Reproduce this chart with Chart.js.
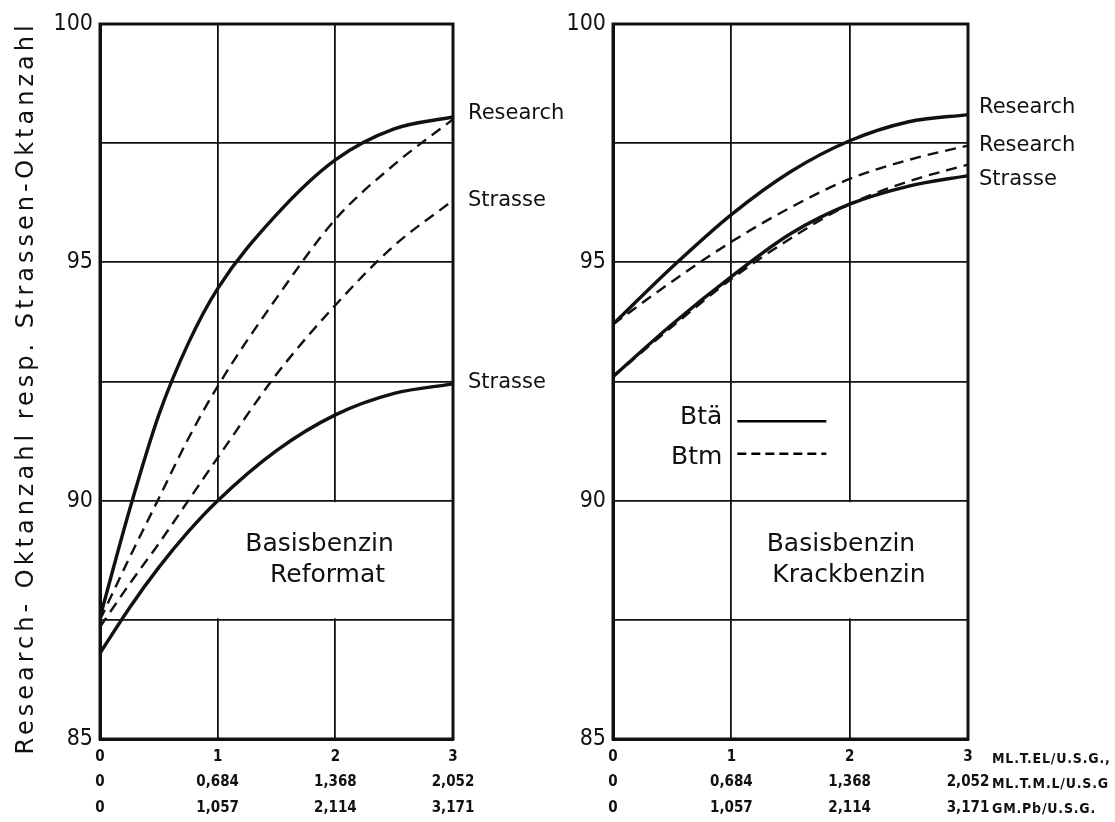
<!DOCTYPE html>
<html>
<head>
<meta charset="utf-8">
<script src="https://cdn.jsdelivr.net/npm/chart.js@4.4.0/dist/chart.umd.min.js"></script>
<style>
  html, body { margin: 0; padding: 0; background: #fff; }
  #wrap { position: relative; width: 1115px; height: 822px; }
  #wrap canvas { position: absolute; left: 0; top: 0; }
</style>
</head>
<body>
<div id="wrap">
  <canvas id="left" width="1115" height="822"></canvas>
  <canvas id="right" width="1115" height="822"></canvas>
</div>
<script>
// x axis: ml TEL per US gallon, with the TML and Pb equivalents underneath
var telTicks = [0, 1, 2, 3];
var tmlTicks = ["0", "0,684", "1,368", "2,052"];
var pbTicks = ["0", "1,057", "2,114", "3,171"];
var unitLabels = ["ML.T.EL/U.S.G.,", "ML.T.M.L/U.S.G", "GM.Pb/U.S.G."];
var yTitle = "Research- Oktanzahl resp. Strassen-Oktanzahl";

// Basisbenzin Reformat
var refX = [0, 0.25, 0.5, 0.75, 1, 1.5, 2, 2.5, 3];
var refResearchBta = [87.55, 89.8, 91.8, 93.3, 94.45, 96.0, 97.15, 97.8, 98.05];
var refResearchBtm = [87.5, 88.8, 90.05, 91.3, 92.4, 94.25, 95.9, 97.05, 98.0];
var refStrasseBtm = [87.35, 88.25, 89.1, 90.0, 90.9, 92.65, 94.1, 95.35, 96.3];
var refStrasseBta = [86.8, 87.75, 88.6, 89.35, 90.0, 91.05, 91.8, 92.25, 92.45];

// Basisbenzin Krackbenzin
var krackX = [0, 0.5, 1, 1.5, 2, 2.5, 3];
var krackResearchBta = [93.7, 94.9, 96.0, 96.9, 97.55, 97.95, 98.1];
var krackResearchBtm = [93.7, 94.6, 95.43, 96.15, 96.75, 97.15, 97.45];
var krackStrasseBta = [92.6, 93.7, 94.7, 95.6, 96.22, 96.6, 96.82];
var krackStrasseBtm = [92.6, 93.65, 94.65, 95.5, 96.22, 96.7, 97.05];

var ink = "#111";
var face = "'DejaVu Sans Condensed', 'Liberation Sans Narrow', sans-serif";
var wide = "'DejaVu Sans', sans-serif";

function pts(xs, ys) {
  return xs.map(function(x, i) { return {x: x, y: ys[i]}; });
}

function curve(xs, ys, dashed) {
  return {
    data: pts(xs, ys),
    borderColor: ink,
    borderWidth: dashed ? 2.4 : 3.4,
    borderDash: dashed ? [11, 7] : [],
    cubicInterpolationMode: "monotone",
    pointRadius: 0,
    fill: false
  };
}

var panelDecor = {
  id: "panelDecor",
  beforeDatasetsDraw: function(chart, args, o) {
    var ctx = chart.ctx, xs = chart.scales.x, ys = chart.scales.y, a = chart.chartArea;
    ctx.save();
    // open field behind the caption (grid interrupted there)
    var gx0 = xs.getPixelForValue(o.gapFrom) + o.gapShift;
    var gx1 = xs.getPixelForValue(3) - 2;
    var gy0 = ys.getPixelForValue(90) + 1.5;
    var gy1 = ys.getPixelForValue(87.5) - 1.5;
    ctx.fillStyle = "#fff";
    ctx.fillRect(gx0, gy0, gx1 - gx0, gy1 - gy0);
    ctx.strokeStyle = ink;
    ctx.lineWidth = 3;
    ctx.strokeRect(a.left, a.top, a.right - a.left, a.bottom - a.top);
    ctx.restore();
  },
  afterDraw: function(chart, args, o) {
    var ctx = chart.ctx, xs = chart.scales.x, ys = chart.scales.y, a = chart.chartArea;
    ctx.save();
    ctx.fillStyle = ink;
    ctx.textBaseline = "middle";

    // rotated axis title, spaced out like the lettering of the original
    if (o.title) {
      ctx.save();
      ctx.translate(27, 388);
      ctx.rotate(-Math.PI / 2);
      ctx.font = "24px " + wide;
      ctx.letterSpacing = "4px";
      ctx.textAlign = "center";
      ctx.fillText(o.title, 0, 0);
      ctx.restore();
    }

    // curve names at the right end
    ctx.font = "21px " + wide;
    ctx.textAlign = "left";
    o.ends.forEach(function(e) {
      var last = e.data[e.data.length - 1];
      ctx.fillText(e.text, xs.getPixelForValue(3) + o.endGap, ys.getPixelForValue(last) + e.dy);
    });

    // caption
    ctx.font = "25px " + wide;
    ctx.textAlign = "center";
    var cx = xs.getPixelForValue(o.caption.x);
    ctx.fillText(o.caption.lines[0], cx - 4, ys.getPixelForValue(89.07));
    ctx.fillText(o.caption.lines[1], cx + 4, ys.getPixelForValue(88.44));

    // line-style key
    if (o.key) {
      var kx = xs.getPixelForValue(1);
      ctx.font = "25px " + wide;
      ctx.textAlign = "right";
      o.key.forEach(function(k) {
        var ky = ys.getPixelForValue(k.y);
        ctx.fillText(k.text, kx - 9, ky);
        ctx.beginPath();
        ctx.lineWidth = 2.6;
        ctx.setLineDash(k.dashed ? [9, 5] : []);
        ctx.moveTo(kx + 6, ky + k.dl);
        ctx.lineTo(kx + 95, ky + k.dl);
        ctx.stroke();
      });
      ctx.setLineDash([]);
    }

    // units beside the x tick rows
    if (o.units) {
      ctx.font = "bold 14px " + face;
      ctx.letterSpacing = "0.8px";
      ctx.textAlign = "left";
      var ux = xs.getPixelForValue(3) + 24;
      var uy = a.bottom + 20;
      o.units.forEach(function(u, i) {
        ctx.fillText(u, ux, uy + i * 25);
      });
    }
    ctx.restore();
  }
};

function makePanel(id, area, datasets, decor) {
  var ctx = document.getElementById(id);
  return new Chart(ctx, {
    type: "line",
    data: { datasets: datasets },
    plugins: [panelDecor],
    options: {
      responsive: false,
      animation: false,
      layout: { padding: { left: area.padLeft, right: 1115 - area.right, top: 24, bottom: 0 } },
      plugins: {
        legend: { display: false },
        tooltip: { enabled: false },
        panelDecor: decor
      },
      scales: {
        x: {
          type: "linear",
          min: 0,
          max: 3,
          afterFit: function(s) { s.height = 822 - 739; },
          afterBuildTicks: function(s) {
            s.ticks = telTicks.map(function(v) { return {value: v}; });
          },
          ticks: {
            color: ink,
            padding: 6,
            maxRotation: 0,
            font: { family: face, size: 15, weight: "bold", lineHeight: 1.67 },
            callback: function(v) {
              var i = telTicks.indexOf(v);
              return [String(v), tmlTicks[i], pbTicks[i]];
            }
          },
          grid: { color: ink, lineWidth: 1.8, drawTicks: false },
          border: { color: ink, width: 3 }
        },
        y: {
          type: "linear",
          min: 85,
          max: 100,
          afterFit: function(s) { s.width = area.left - area.padLeft; },
          ticks: {
            stepSize: 2.5,
            color: ink,
            padding: 7,
            font: { family: face, size: 23 },
            callback: function(v) { return v % 5 === 0 ? String(v) : ""; }
          },
          grid: { color: ink, lineWidth: 1.8, drawTicks: false },
          border: { color: ink, width: 3 }
        }
      }
    }
  });
}

makePanel("left", { padLeft: 0, left: 100, right: 453 }, [
  curve(refX, refResearchBta, false),
  curve(refX, refResearchBtm, true),
  curve(refX, refStrasseBtm, true),
  curve(refX, refStrasseBta, false)
], {
  title: yTitle,
  gapFrom: 1, gapShift: -3,
  endGap: 15,
  ends: [
    { text: "Research", data: refResearchBta, dy: -3 },
    { text: "Strasse", data: refStrasseBtm, dy: 0 },
    { text: "Strasse", data: refStrasseBta, dy: -1 }
  ],
  caption: { x: 1.9, lines: ["Basisbenzin", "Reformat"] }
});

makePanel("right", { padLeft: 560, left: 613, right: 968 }, [
  curve(krackX, krackResearchBta, false),
  curve(krackX, krackResearchBtm, true),
  curve(krackX, krackStrasseBtm, true),
  curve(krackX, krackStrasseBta, false)
], {
  gapFrom: 1, gapShift: 3,
  endGap: 11,
  ends: [
    { text: "Research", data: krackResearchBta, dy: -7 },
    { text: "Research", data: krackResearchBtm, dy: 0 },
    { text: "Strasse", data: krackStrasseBta, dy: 4 }
  ],
  caption: { x: 1.96, lines: ["Basisbenzin", "Krackbenzin"] },
  key: [
    { text: "Btä", y: 91.75, dashed: false, dl: 4 },
    { text: "Btm", y: 90.9, dashed: true, dl: -4 }
  ],
  units: unitLabels
});
</script>
</body>
</html>
